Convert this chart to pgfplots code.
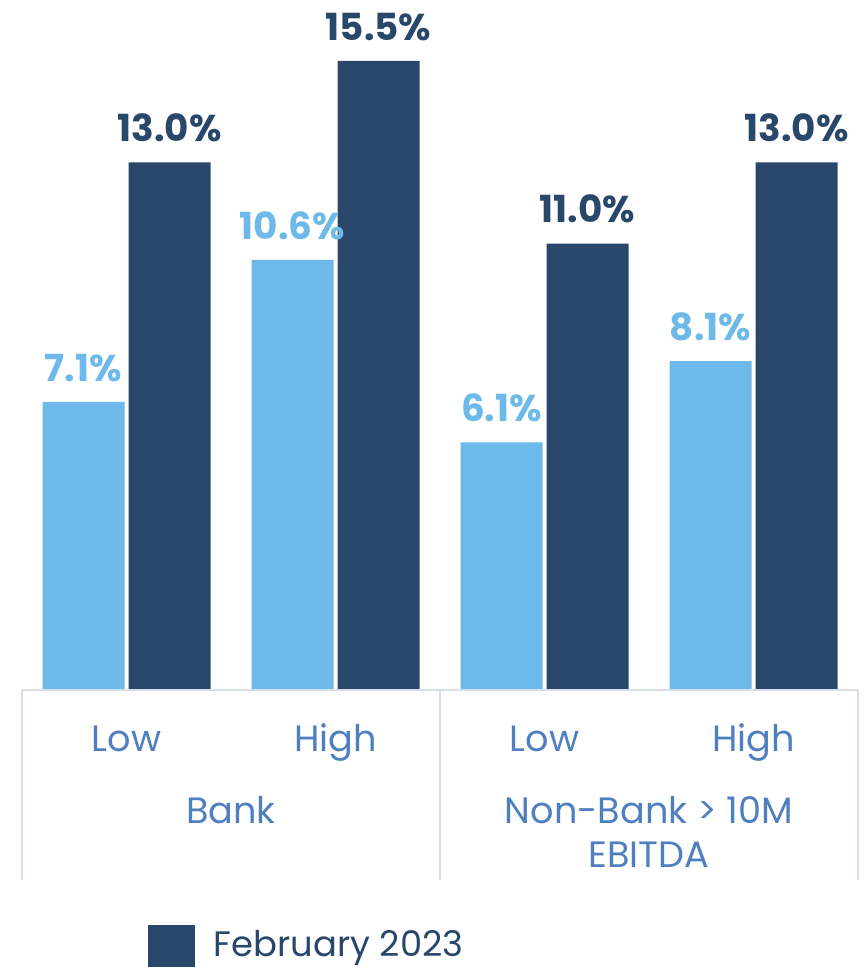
\documentclass[border=0pt]{standalone}
\usepackage{fontspec}
\setmainfont{Poppins}
\usepackage{pgfplots}
\pgfplotsset{compat=1.18}
\definecolor{lightbar}{HTML}{6CB9EA}
\definecolor{darkbar}{HTML}{29476B}
\definecolor{labelblue}{HTML}{4F7FBE}
\definecolor{rulecol}{HTML}{D6DEEA}

\begin{document}
\begin{tikzpicture}
\useasboundingbox (0,0) rectangle (648pt,725.25pt);
\begin{axis}[
    at={(16.5pt,207.75pt)}, anchor=south west,
    scale only axis, width=627pt, height=517.5pt,
    ybar, ymin=0, ymax=17, xmin=-0.5, xmax=3.5,
    axis line style={draw=none}, clip=false,
    ytick=\empty, xtick={0,1,2,3}, xticklabels={Low,High,Low,High},
    major tick length=0pt,
    xticklabel style={font=\fontsize{27.5}{32}\selectfont, text=labelblue, anchor=base, yshift=-46pt},
    /pgf/number format/assume math mode=true,
    nodes near coords={\pgfmathprintnumber[fixed,fixed zerofill,precision=1]{\pgfplotspointmeta}\%},
    every node near coord/.append style={font=\fontsize{28}{32}\selectfont\bfseries, anchor=south, inner sep=0pt, yshift=15pt},
    bar width=61.5pt,
    legend style={draw=none, fill=none, at={(0.146,-0.371)}, anchor=west,
        font=\fontsize{26.5}{30}\selectfont, text=darkbar,
        /tikz/every odd column/.append style={column sep=12pt}},
    legend image code/.code={\fill[darkbar] (0pt,-15.75pt) rectangle (35.25pt,15.75pt);},
]
\addplot[fill=lightbar, draw=none, bar shift=-32.25pt, forget plot,
    every node near coord/.append style={text=lightbar}]
    coordinates {(0,7.1) (1,10.6) (2,6.1) (3,8.1)};
\addplot[fill=darkbar, draw=none, bar shift=32.25pt,
    every node near coord/.append style={text=darkbar}]
    coordinates {(0,13.0) (1,15.5) (2,11.0) (3,13.0)};
\addlegendentry{\raisebox{3pt}{February 2023}}
\draw[rulecol, line width=1.2pt] (axis cs:-0.5,0) -- (axis cs:3.5,0);
\draw[rulecol, line width=1.2pt] (axis cs:-0.5,0) -- (axis cs:-0.5,-4.68);
\draw[rulecol, line width=1.2pt] (axis cs:1.5,0) -- (axis cs:1.5,-4.68);
\draw[rulecol, line width=1.2pt] (axis cs:3.5,0) -- (axis cs:3.5,-4.68);
\node[font=\fontsize{27.5}{32}\selectfont, text=labelblue, anchor=base] at (axis cs:0.5,-3.277) {Bank};
\node[font=\fontsize{27.5}{32}\selectfont, text=labelblue, anchor=base] at (axis cs:2.5,-3.277) {Non-Bank > 10M};
\node[font=\fontsize{27.5}{32}\selectfont, text=labelblue, anchor=base] at (axis cs:2.5,-4.385) {EBITDA};
\end{axis}
\end{tikzpicture}
\end{document}
